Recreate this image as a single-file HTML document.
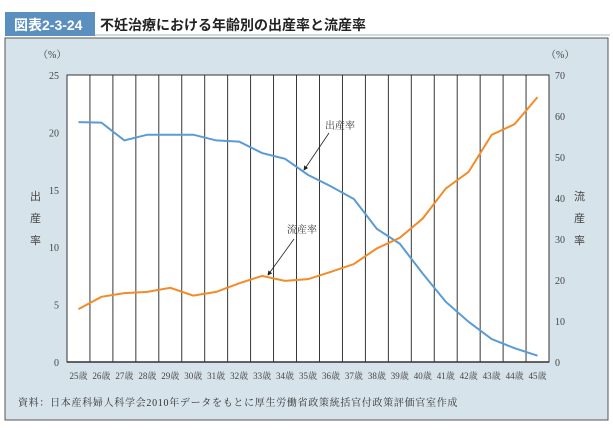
<!DOCTYPE html>
<html><head><meta charset="utf-8"><style>
body{margin:0;width:613px;height:425px;background:#fff;font-family:"Liberation Serif","Noto Serif CJK SC",serif;overflow:hidden}
</style></head><body>
<svg width="613" height="425" xmlns="http://www.w3.org/2000/svg">
<rect x="5" y="12" width="90" height="24" fill="#5b8fbf"/>
<text x="14" y="30" font-family="Liberation Sans,Noto Sans CJK JP,sans-serif" font-weight="bold" font-size="14" fill="#fff">図表2-3-24</text>
<text x="100" y="30" font-family="Liberation Sans,Noto Sans CJK JP,sans-serif" font-weight="bold" font-size="14" fill="#222">不妊治療における年齢別の出産率と流産率</text>
<line x1="95" y1="35" x2="610" y2="35" stroke="#9bb5cc" stroke-width="1"/>
<rect x="5" y="38" width="603" height="382" fill="#d7e3ea" stroke="#555" stroke-width="1"/>
<g id="plot"></g>
<text x="38" y="58" font-size="10" fill="#444">（%）</text>
<text x="546" y="58" font-size="10" fill="#444">（%）</text>
<text font-size="11" fill="#444" font-family="Noto Sans CJK JP,sans-serif"><tspan x="30" y="200">出</tspan><tspan x="30" y="222">産</tspan><tspan x="30" y="244">率</tspan></text>
<text font-size="11" fill="#444" font-family="Noto Sans CJK JP,sans-serif"><tspan x="574" y="200">流</tspan><tspan x="574" y="222">産</tspan><tspan x="574" y="244">率</tspan></text>
<text x="18" y="406" font-size="10" letter-spacing="0.7" fill="#333">資料：日本産科婦人科学会2010年データをもとに厚生労働省政策統括官付政策評価官室作成</text>
</svg>
<script>
const categories=["25歳","26歳","27歳","28歳","29歳","30歳","31歳","32歳","33歳","34歳","35歳","36歳","37歳","38歳","39歳","40歳","41歳","42歳","43歳","44歳","45歳"];
const birthRate=[20.9,20.85,19.3,19.8,19.8,19.8,19.3,19.2,18.2,17.7,16.3,15.3,14.2,11.6,10.3,7.7,5.25,3.5,2.0,1.2,0.55];
const miscarriageRate=[12.9,15.9,16.8,17.1,18.1,16.2,17.1,19.2,21.0,19.8,20.2,22.0,23.9,27.7,30.3,35.0,42.3,46.4,55.4,58.0,64.6];
const leftTicks=[0,5,10,15,20,25];
const rightTicks=[0,10,20,30,40,50,60,70];
const L=67,R=549,T=75,B=362;
const bw=(R-L)/categories.length;
const xs=i=>L+(i+0.5)*bw;
const yl=v=>B-(v/25)*(B-T);
const yr=v=>B-(v/70)*(B-T);
const NS="http://www.w3.org/2000/svg";
const g=document.getElementById('plot');
function mk(t,a,p){const e=document.createElementNS(NS,t);for(const k in a)e.setAttribute(k,a[k]);(p||g).appendChild(e);return e;}
const bg=mk('rect',{x:L,y:T,width:R-L,height:B-T,fill:'#fff',stroke:'#333','stroke-width':1});


for(let i=1;i<categories.length;i++){const l=mk('line',{x1:L+i*bw,x2:L+i*bw,y1:T,y2:B,stroke:'#222','stroke-width':0.9});

}
mk('line',{x1:L,x2:R,y1:B,y2:B,stroke:'#333','stroke-width':1.5});
leftTicks.forEach(v=>{const t=mk('text',{x:L-8,y:yl(v)+4,'text-anchor':'end','font-size':10,fill:'#444'});t.textContent=v;

});
rightTicks.forEach(v=>{const t=mk('text',{x:R+6,y:yr(v)+4,'font-size':10,fill:'#444'});t.textContent=v;

});
categories.forEach((c,i)=>{const t=mk('text',{x:xs(i),y:379,'text-anchor':'middle','font-size':9,fill:'#444'});t.textContent=c;

});
const p1=mk('polyline',{points:birthRate.map((v,i)=>xs(i)+','+yl(v)).join(' '),fill:'none',stroke:'#5b9bd5','stroke-width':2});


const p2=mk('polyline',{points:miscarriageRate.map((v,i)=>xs(i)+','+yr(v)).join(' '),fill:'none',stroke:'#f28c28','stroke-width':2});


mk('defs',{}).innerHTML='<marker id="ah" markerWidth="6" markerHeight="6" refX="5" refY="3" orient="auto"><path d="M0,0 L6,3 L0,6 z" fill="#222"/></marker>';
const a1=mk('line',{x1:329,y1:133,x2:304,y2:170,stroke:'#222','stroke-width':0.8,'marker-end':'url(#ah)'});


const a2=mk('line',{x1:294,y1:239,x2:268,y2:275,stroke:'#222','stroke-width':0.8,'marker-end':'url(#ah)'});


const t1=mk('text',{x:325,y:129,'font-size':10,fill:'#333'});t1.textContent='出産率';


const t2=mk('text',{x:287,y:233,'font-size':10,fill:'#333'});t2.textContent='流産率';


</script>
</body></html>
